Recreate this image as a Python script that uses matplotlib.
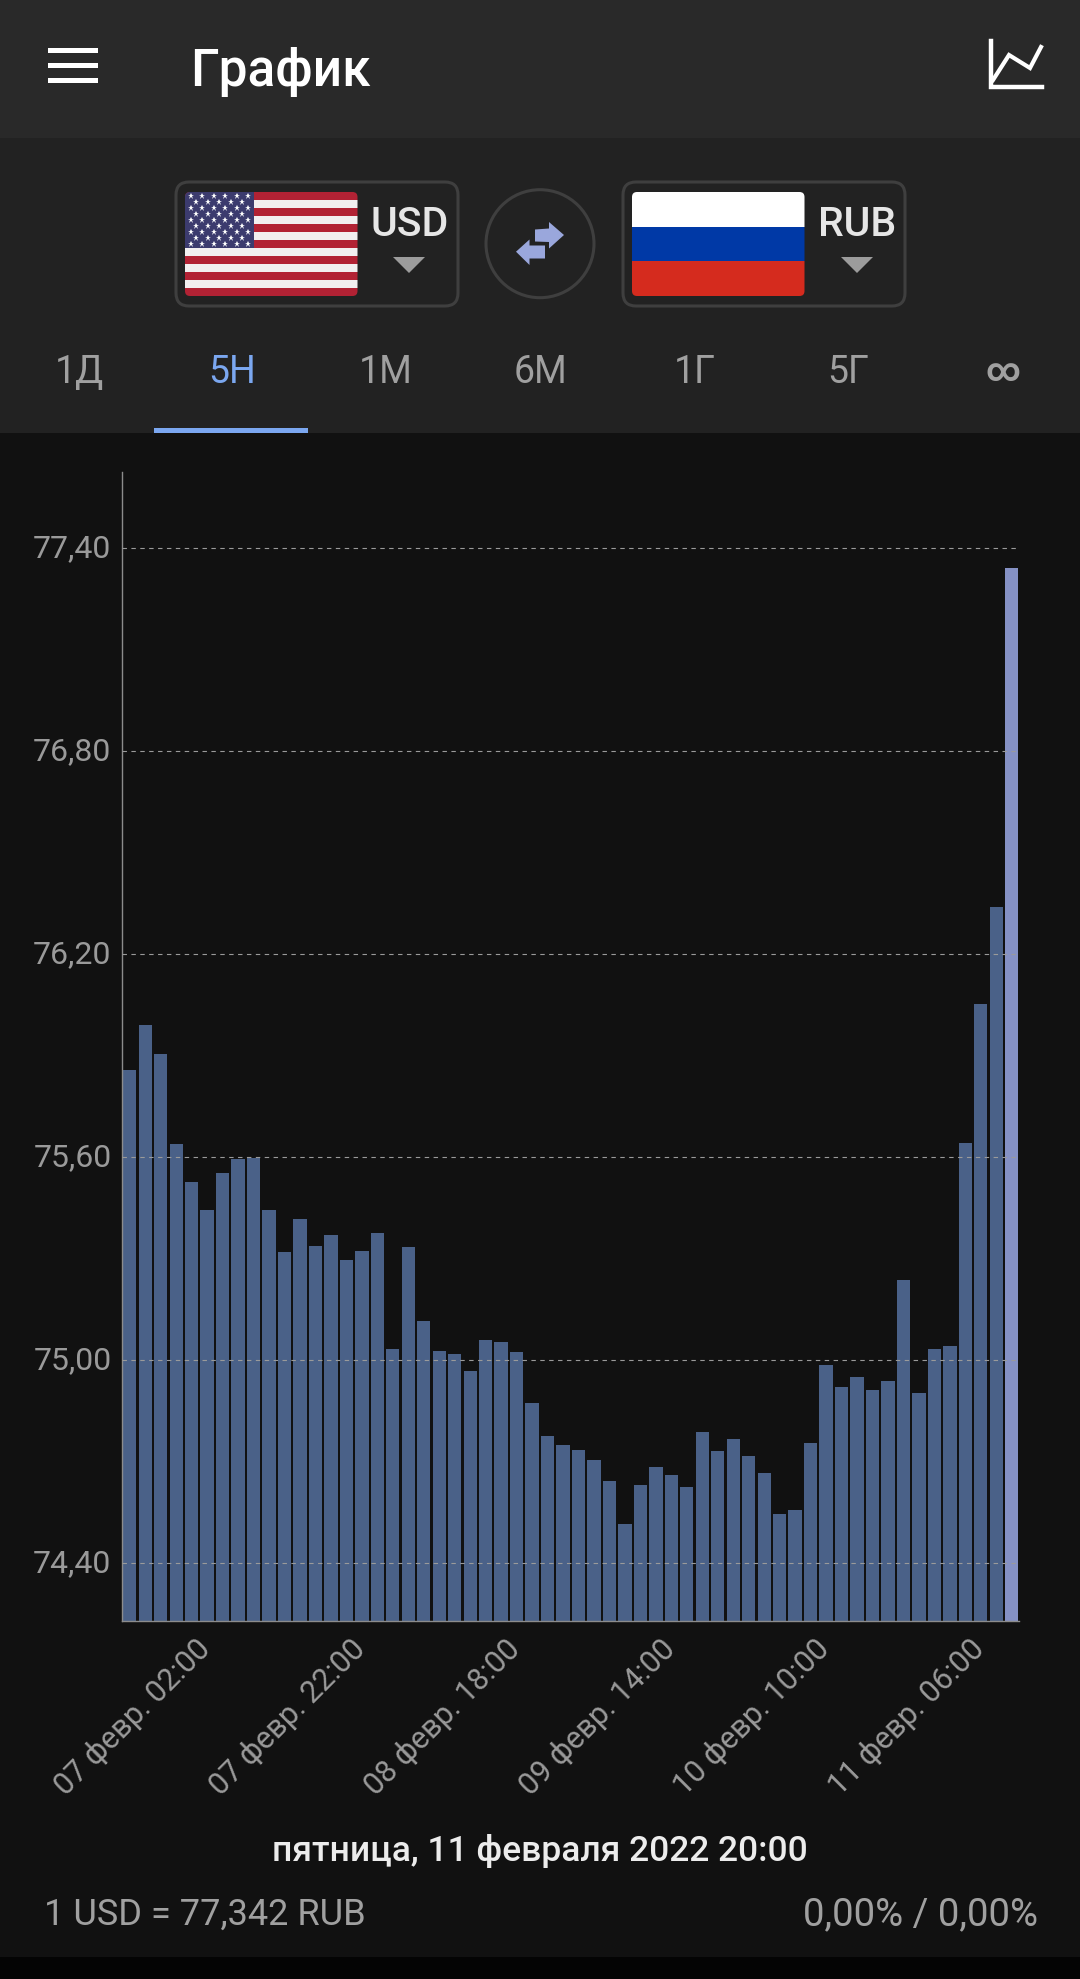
import matplotlib
matplotlib.use('Agg')
import matplotlib.pyplot as plt
from matplotlib.patches import Rectangle, FancyBboxPatch, Circle, Polygon
from matplotlib.transforms import ScaledTranslation

plt.rcParams['font.family'] = ['Roboto', 'DejaVu Sans']

# values
rates = [75.857, 75.991, 75.904, 75.638, 75.527, 75.444, 75.553, 75.596, 75.599, 75.445,
         75.320, 75.419, 75.337, 75.371, 75.298, 75.322, 75.377, 75.034, 75.335, 75.115,
         75.027, 75.020, 74.969, 75.061, 75.053, 75.025, 74.875, 74.776, 74.750, 74.735,
         74.706, 74.643, 74.515, 74.632, 74.684, 74.661, 74.626, 74.789, 74.733, 74.768,
         74.718, 74.667, 74.545, 74.559, 74.756, 74.987, 74.920, 74.951, 74.911, 74.938,
         75.237, 74.903, 75.034, 75.042, 75.643, 76.053, 76.340, 77.342]
y_ticks = [74.4, 75.0, 75.6, 76.2, 76.8, 77.4]
y_labels = ['74,40', '75,00', '75,60', '76,20', '76,80', '77,40']
x_ticks = [0, 10, 20, 30, 40, 50]
x_labels = ['07 февр. 02:00', '07 февр. 22:00', '08 февр. 18:00',
            '09 февр. 14:00', '10 февр. 10:00', '11 февр. 06:00']
tabs = ['1Д', '5Н', '1М', '6М', '1Г', '5Г', '∞']
tab_x = [79, 232, 386, 540, 695, 848, 1003]

W, H = 1080, 1979
fig = plt.figure(figsize=(W / 100, H / 100), dpi=100, facecolor='#111111')

# background layer in pixel coordinates
ui = fig.add_axes([0, 0, 1, 1])
ui.set_xlim(0, W)
ui.set_ylim(H, 0)
ui.axis('off')


def rect(x0, y0, x1, y1, color, z=1, clip=None):
    r = Rectangle((x0, y0), x1 - x0, y1 - y0, fc=color, ec='none', zorder=z)
    ui.add_patch(r)
    if clip is not None:
        r.set_clip_path(clip)
    return r


def flag_clip(x0, y0, x1, y1):
    # rounded corners of the flag pictures
    p = FancyBboxPatch((x0 + 5, y0 + 5), x1 - x0 - 10, y1 - y0 - 10, boxstyle='round,pad=5,rounding_size=5',
                       fc='none', ec='none', zorder=0)
    ui.add_patch(p)
    return p


rect(0, 0, W, 138, '#292929')
rect(0, 138, W, 433, '#222222')
rect(0, 433, W, 1957, '#111111')
rect(0, 1957, W, H, '#040404')
rect(154, 428, 308, 433, '#7ba7f0', 2)

# header
for y in [50, 65, 80]:
    rect(48, y - 2.5, 98, y + 2.5, '#ffffff', 2)
ui.text(190, 86, 'График', color='white', fontsize=37, fontweight='medium', va='baseline', zorder=3)
ui.plot([991, 991, 1042], [41, 87, 87], color='white', lw=3.2, solid_joinstyle='miter', zorder=3)
ui.plot([993, 1009, 1030, 1041], [80, 55, 68, 47], color='white', lw=3, solid_joinstyle='miter', zorder=3)

# currency selectors
for x0, x1 in [(176, 458), (623, 905)]:
    ui.add_patch(FancyBboxPatch((x0 + 10, 192), x1 - x0 - 20, 104, boxstyle='round,pad=10,rounding_size=13',
                                fc='none', ec='#3f3f3f', lw=2.2, zorder=2))

# US flag
fx0, fx1, fy0, fy1 = 185, 357.5, 192, 296
us_clip = flag_clip(fx0, fy0, fx1, fy1)
for i in range(13):
    sh = (fy1 - fy0) / 13
    rect(fx0, fy0 + i * sh, fx1, fy0 + (i + 1) * sh, '#b22234' if i % 2 == 0 else '#f2eff0', 3, us_clip)
rect(fx0, fy0, 254, 248, '#3c3b6e', 4, us_clip)
for row in range(9):
    n = 6 if row % 2 == 0 else 5
    off = 0 if row % 2 == 0 else 5.75
    for c in range(n):
        ui.plot(fx0 + 5.5 + off + c * 11.5, fy0 + 3.5 + row * 6.1, marker='*', ms=4.6, color='white', mew=0, zorder=5)

# RU flag
ru_clip = flag_clip(632, 192, 804.5, 296)
rect(632, 192, 804.5, 227, '#ffffff', 3, ru_clip)
rect(632, 227, 804.5, 261, '#0039a6', 3, ru_clip)
rect(632, 261, 804.5, 296, '#d52b1e', 3, ru_clip)

ui.text(410, 236, 'USD', color='#e6e6e6', fontsize=29.5, fontweight='medium', ha='center', va='baseline', zorder=3)
ui.text(857, 236, 'RUB', color='#e6e6e6', fontsize=29.5, fontweight='medium', ha='center', va='baseline', zorder=3)
for cx in [409, 857]:
    ui.add_patch(Polygon([(cx - 16, 257), (cx + 16, 257), (cx, 273)], fc='#9c9c9c', ec='none', zorder=3))

# swap button
ui.add_patch(Circle((540, 243.7), 54, fc='none', ec='#3f3f3f', lw=2.2, zorder=2))
ui.add_patch(Polygon([(535, 229.5), (549, 228.5), (549, 222), (564, 235), (549, 248.5), (549, 242), (535, 241.5)],
                     fc='#9aa7dc', ec='none', zorder=3))
ui.add_patch(Polygon([(545, 245.5), (529.5, 245.5), (529.5, 239.5), (516, 251.7), (529.5, 265), (529.5, 258.5), (545, 258.5)],
                     fc='#9aa7dc', ec='none', zorder=3))

# tabs
for i, t in enumerate(tabs):
    inf = t == '∞'
    ui.text(tab_x[i], 381 if inf else 383, t, color='#7ba7f0' if i == 1 else '#a0a0a0',
            fontsize=24 if inf else 27, fontweight='bold' if inf else 'normal',
            ha='center', va='baseline', zorder=3)

# chart
L, R, T, B = 122, 1019.5, 472, 1620.6
ax = fig.add_axes([L / W, 1 - B / H, (R - L) / W, (B - T) / H])
ax.patch.set_alpha(0)
colors = ['#4a6188'] * (len(rates) - 1) + ['#8591c4']
ax.bar(range(len(rates)), rates, width=0.86, color=colors, zorder=2)
ax.set_xlim(-0.5, 57.5)
ax.set_ylim(74.231, 77.625)
ax.set_yticks(y_ticks, y_labels)
ax.set_xticks(x_ticks)
ax.set_xticklabels(x_labels, rotation=45, ha='center', va='top')
ax.tick_params(axis='both', length=0, labelcolor='#9a9a9a', labelsize=22)
ax.tick_params(axis='x', pad=9.5)
ax.tick_params(axis='y', pad=7.5, labelsize=23)
ax.grid(axis='y', color='#9a9a9a', ls=(0, (4, 4)), lw=0.8, zorder=3)
ax.set_axisbelow(False)
for side in ['top', 'right']:
    ax.spines[side].set_visible(False)
for side in ['left', 'bottom']:
    ax.spines[side].set_color('#8c8c8c')
    ax.spines[side].set_linewidth(1)

# nudge tick labels a few pixels
for lab in ax.get_xticklabels():
    lab.set_transform(lab.get_transform() + ScaledTranslation(3 / 100, 0, fig.dpi_scale_trans))
for lab in ax.get_yticklabels():
    lab.set_transform(lab.get_transform() + ScaledTranslation(0, 3 / 100, fig.dpi_scale_trans))

# footer
ui.text(540, 1861, 'пятница, 11 февраля 2022 20:00', color='#ececec', fontsize=25.5, fontweight='medium',
        ha='center', va='baseline', zorder=3)
ui.text(44, 1925, '1 USD = 77,342 RUB', color='#a0a0a0', fontsize=26, va='baseline', zorder=3)
ui.text(1038, 1925, '0,00% / 0,00%', color='#a0a0a0', fontsize=27.5, ha='right', va='baseline', zorder=3)

fig.savefig('out.png', dpi=100, facecolor=fig.get_facecolor())
